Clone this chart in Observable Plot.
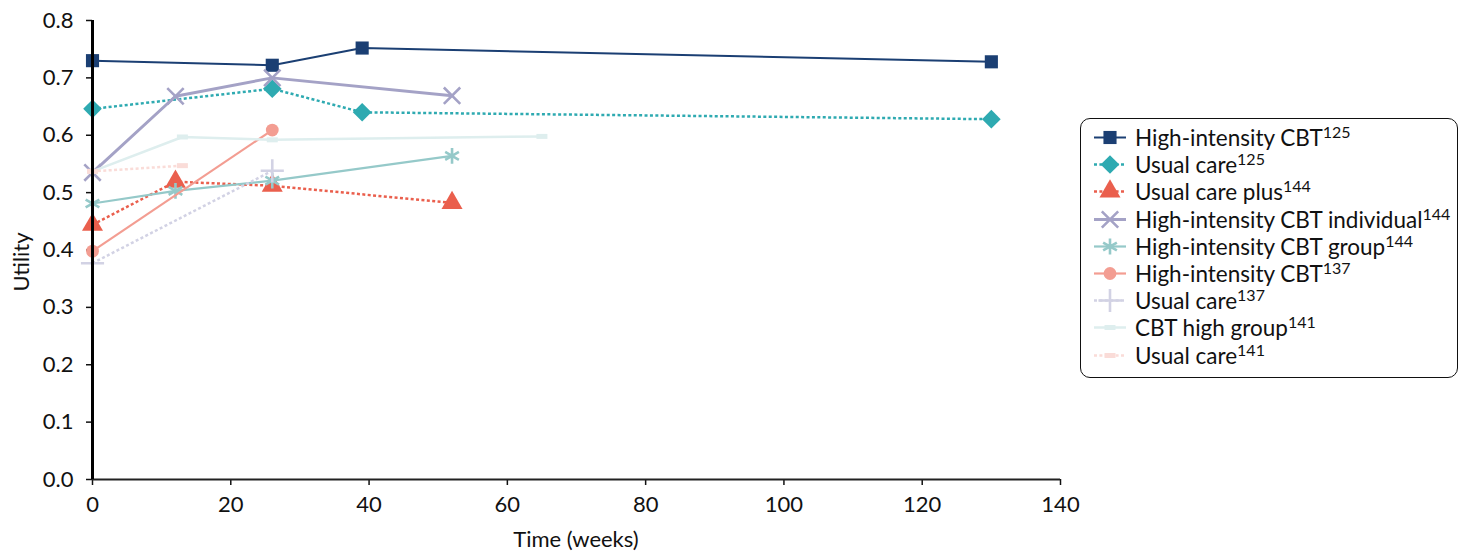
<!DOCTYPE html>
<html>
<head>
<meta charset="utf-8">
<script src="https://cdn.jsdelivr.net/npm/d3@7"></script>
<script src="https://cdn.jsdelivr.net/npm/@observablehq/plot@0.6"></script>
<style>
  html, body { margin: 0; padding: 0; background: #fff; }
  #wrap { position: relative; width: 1460px; height: 556px; font-family: Lato, "Open Sans", sans-serif; }
  #legend { position: absolute; left: 1080px; top: 118px; width: 378px; height: 260px;
            border: 1.8px solid #111; border-radius: 10px; box-sizing: border-box; padding-top: 5px; }
  .row { position: relative; height: 27.2px; }
  .row svg { position: absolute; left: 12px; top: 0; }
  .row span { position: absolute; left: 54px; top: 0px; font-size: 22.5px; line-height: 27px; color: #111; white-space: nowrap; }
  .row sup { font-size: 16px; vertical-align: 0; position: relative; top: -8px; }
</style>
</head>
<body>
<div id="wrap"><div id="chart"></div><div id="legend"></div></div>
<script>
// ---- data ----
const seriesNames = [
  "High-intensity CBT", "Usual care", "Usual care plus", "High-intensity CBT individual",
  "High-intensity CBT group", "High-intensity CBT", "Usual care", "CBT high group", "Usual care"
];
const seriesRefs = ["125", "125", "144", "144", "144", "137", "137", "141", "141"];
const weeks = [
  [0, 26, 39, 130],
  [0, 26, 39, 130],
  [0, 12, 26, 52],
  [0, 12, 26, 52],
  [0, 12, 26, 52],
  [0, 26],
  [0, 26],
  [0, 13, 26, 65],
  [0, 13]
];
const utility = [
  [0.730, 0.722, 0.752, 0.728],
  [0.646, 0.681, 0.640, 0.628],
  [0.444, 0.519, 0.512, 0.482],
  [0.535, 0.668, 0.700, 0.669],
  [0.481, 0.503, 0.521, 0.564],
  [0.398, 0.609],
  [0.377, 0.538],
  [0.537, 0.597, 0.592, 0.598],
  [0.537, 0.547]
];
const xTicks = [0, 20, 40, 60, 80, 100, 120, 140];
const yTicks = [0, 0.1, 0.2, 0.3, 0.4, 0.5, 0.6, 0.7, 0.8];

// ---- styles ----
const wideRect = { draw(ctx) { ctx.rect(-5.5, -2.5, 11, 5); } };
const styles = [
  { color: "#1b3f73", width: 2,   dash: null,    symbol: "square",   r: 7.4, filled: true },
  { color: "#2eaab1", width: 2.5, dash: "3,2.4", symbol: "diamond2", r: 8.4, filled: true },
  { color: "#ea5f4d", width: 2.5, dash: "3,2.4", symbol: "triangle", r: 7.8, filled: true },
  { color: "#a4a2c6", width: 3,   dash: null,    symbol: "times",    r: 7.5, filled: false },
  { color: "#95c9c9", width: 2.2, dash: null,    symbol: "asterisk", r: 7.5, filled: false },
  { color: "#f39d92", width: 2.2, dash: null,    symbol: "circle",   r: 6.4, filled: true },
  { color: "#d2d2e4", width: 2.5, dash: "3,2.4", symbol: "plus",     r: 7.5, filled: false },
  { color: "#deeeee", width: 2.5, dash: null,    symbol: wideRect,   r: 5,   filled: true },
  { color: "#fadcd8", width: 2.5, dash: "3,2.4", symbol: wideRect,   r: 5,   filled: true }
];

const series = seriesNames.map((name, i) => ({
  name, ref: seriesRefs[i], style: styles[i],
  points: weeks[i].map((w, j) => ({ week: w, value: utility[i][j] }))
}));

const marks = [];
series.forEach(s => {
  const st = s.style;
  marks.push(Plot.line(s.points, { x: "week", y: "value", stroke: st.color, strokeWidth: st.width,
    strokeDasharray: st.dash || undefined, strokeLinecap: "butt", curve: "linear" }));
  marks.push(Plot.dot(s.points, { x: "week", y: "value", symbol: () => st.symbol, r: st.r,
    fill: st.filled ? st.color : "none", stroke: st.filled ? "none" : st.color,
    strokeWidth: st.filled ? 0 : 2.6 }));
});

const chart = Plot.plot({
  width: 1460, height: 556,
  marginLeft: 92, marginRight: 400, marginTop: 20, marginBottom: 77,
  style: { fontFamily: "Lato, 'Open Sans', sans-serif", fontSize: "22px", color: "#111", background: "#fff" },
  x: { domain: [0, 140] },
  y: { domain: [0, 0.8] },
  symbol: { type: "identity" },
  marks: [
    Plot.axisX({ ticks: xTicks, tickSize: 6, tickPadding: 11, label: null, fontSize: 22, stroke: "#111", strokeWidth: 1.5 }),
    Plot.axisY({ ticks: yTicks, tickSize: 6, tickPadding: 13, tickFormat: d3.format(".1f"), label: null, fontSize: 22, stroke: "#111", strokeWidth: 1.5 }),
    Plot.ruleY([0], { stroke: "#222", strokeWidth: 2 }),
    ...marks,
    Plot.ruleX([0], { stroke: "#000", strokeWidth: 3 })
  ]
});
document.getElementById("chart").appendChild(chart);

const svg = d3.select(chart);
svg.append("text").attr("x", 576).attr("y", 547).attr("text-anchor", "middle")
  .attr("font-size", 22).attr("fill", "#111").text("Time (weeks)");
svg.append("text").attr("transform", "translate(29,262) rotate(-90)").attr("text-anchor", "middle")
  .attr("font-size", 22).attr("fill", "#111").text("Utility");

// ---- legend ----
const legend = d3.select("#legend");
series.forEach(s => {
  const st = s.style;
  const row = legend.append("div").attr("class", "row");
  const sw = row.append("svg").attr("width", 36).attr("height", 27);
  sw.append("line").attr("x1", 1).attr("x2", 33).attr("y1", 13.5).attr("y2", 13.5)
    .attr("stroke", st.color).attr("stroke-width", st.width)
    .attr("stroke-dasharray", st.dash || null);
  const sym = typeof st.symbol === "string"
    ? { square: d3.symbolSquare, diamond2: d3.symbolDiamond2, triangle: d3.symbolTriangle,
        times: d3.symbolTimes, asterisk: d3.symbolAsterisk, circle: d3.symbolCircle, plus: d3.symbolPlus }[st.symbol]
    : st.symbol;
  sw.append("path").attr("transform", "translate(17,13.5)")
    .attr("d", d3.symbol(sym, st.r * st.r * Math.PI)())
    .attr("fill", st.filled ? st.color : "none")
    .attr("stroke", st.filled ? "none" : st.color)
    .attr("stroke-width", st.filled ? 0 : 2.6);
  const span = row.append("span");
  span.append("tspan").text(s.name);
  span.append("sup").text(s.ref);
});
</script>
</body>
</html>
